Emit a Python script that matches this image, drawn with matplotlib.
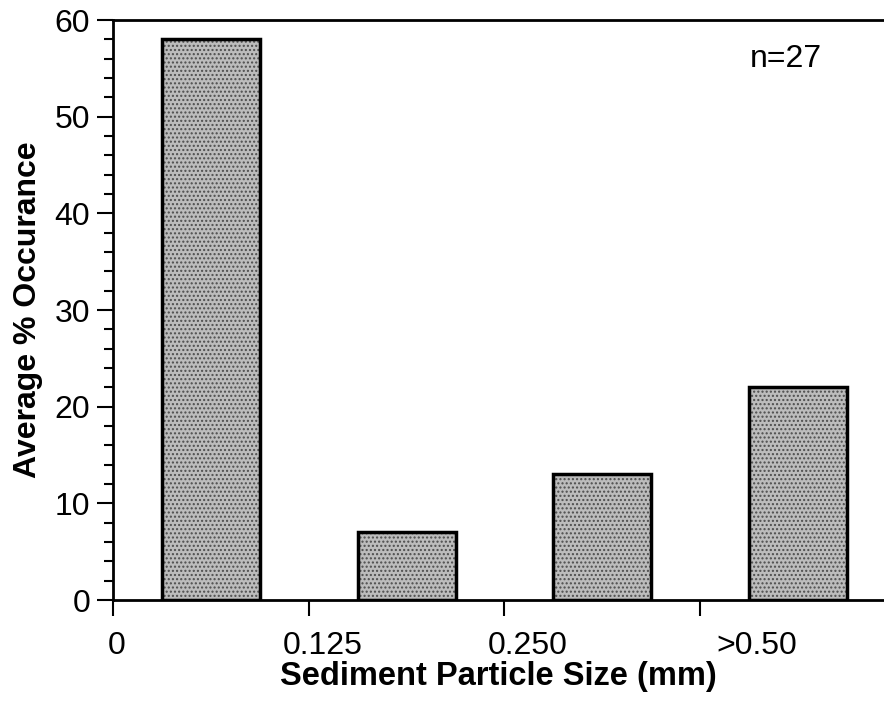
import numpy as np
import matplotlib.pyplot as plt

# average % occurrence per sediment size class
classes = ["<0.125", "0.125-0.250", "0.250-0.50", ">0.50"]
occurrence = [58, 7, 13, 22]
tick_labels = ["0", "0.125", "0.250", ">0.50"]
label_pos = [0.02, 1.07, 2.12, 3.29]

plt.rcParams['font.family'] = ['Liberation Sans', 'DejaVu Sans']

fig = plt.figure(figsize=(8.84, 7.03), dpi=100)
ax = fig.add_axes([0.128, 0.1465, 0.872, 0.825])

x = np.arange(len(classes)) + 0.5
ax.bar(x, occurrence, width=0.5, facecolor="#bcbcbc", edgecolor="black",
       linewidth=2.5, hatch="....", zorder=2)
for b in ax.patches:
    b._hatch_color = (0.3, 0.3, 0.3, 1.0)

ax.set_xlim(0, 3.94)
ax.set_ylim(0, 60)

# y ticks: major every 10, minor every 2
ax.set_yticks(np.arange(0, 61, 10))
ax.set_yticks(np.arange(0, 61, 2), minor=True)
ax.tick_params(axis="y", which="major", direction="out", length=11.5, width=1.5,
               labelsize=23, pad=5)
ax.tick_params(axis="y", which="minor", direction="out", length=6.5, width=1.5)

# x ticks at class boundaries, labels placed slightly right of them
ax.set_xticks(np.arange(4))
ax.set_xticklabels([])
ax.tick_params(axis="x", which="major", direction="out", length=11.5, width=1.5)
ax.set_xticks(label_pos, minor=True)
ax.set_xticklabels(tick_labels, minor=True)
ax.tick_params(axis="x", which="minor", length=0, labelsize=23, pad=22)

for s in ["left", "bottom", "top"]:
    ax.spines[s].set_linewidth(2)
ax.spines["right"].set_visible(False)

ax.set_xlabel("Sediment Particle Size (mm)", fontsize=23.5, fontweight="bold", labelpad=0)
ax.set_ylabel("Average % Occurance", fontsize=23, fontweight="bold", labelpad=8)

ax.text(3.44, 56, "n=27", fontsize=23, ha="center", va="center")

fig.savefig("out.png", dpi=100)
